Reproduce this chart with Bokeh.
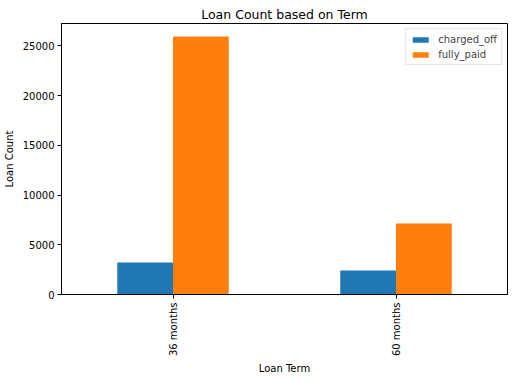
import math
from bokeh.plotting import figure
from bokeh.models import FactorRange, Range1d, ColumnDataSource, Legend, LegendItem, FixedTicker
from bokeh.transform import dodge
from bokeh.embed import file_html
from bokeh.resources import INLINE

terms = ["36 months", "60 months"]
charged_off = [3210, 2410]
fully_paid = [25950, 7150]
y_ticks = [0, 5000, 10000, 15000, 20000, 25000]

src = ColumnDataSource(dict(term=terms, charged_off=charged_off, fully_paid=fully_paid))

FONT = "DejaVu Sans"
p = figure(width=513, height=379, x_range=FactorRange(*terms, range_padding=0),
           y_range=Range1d(0, max(fully_paid) * 1.05),
           output_backend="svg", toolbar_location=None,
           title="Loan Count based on Term",
           min_border_left=60, min_border_right=6, min_border_top=23, min_border_bottom=85)
p.title.align = "center"
p.title.text_font = FONT
p.title.text_font_size = "12.5px"
p.title.text_font_style = "normal"
p.title.text_color = "black"
p.title.standoff = 4
p.title.offset = 0

r1 = p.vbar(x=dodge("term", -0.125, range=p.x_range), top="charged_off", width=0.25,
            source=src, color="#1f77b4", line_color=None)
r2 = p.vbar(x=dodge("term", 0.125, range=p.x_range), top="fully_paid", width=0.25,
            source=src, color="#ff7f0e", line_color=None)

p.xgrid.visible = False
p.ygrid.visible = False
p.outline_line_color = "black"
p.outline_line_width = 1

for ax in (p.xaxis[0], p.yaxis[0]):
    ax.axis_line_color = "black"
    ax.major_tick_line_color = "black"
    ax.major_tick_out = 4
    ax.major_tick_in = 0
    ax.minor_tick_line_color = None
    ax.major_label_text_font = FONT
    ax.major_label_text_font_size = "10px"
    ax.major_label_text_color = "black"
    ax.axis_label_text_font = FONT
    ax.axis_label_text_font_size = "10px"
    ax.axis_label_text_font_style = "normal"
    ax.axis_label_text_color = "black"

p.yaxis.ticker = FixedTicker(ticks=y_ticks)
p.yaxis.axis_label = "Loan Count"
p.yaxis.major_label_standoff = 3
p.xaxis.axis_label = "Loan Term"
p.xaxis.major_label_orientation = math.pi / 2
p.xaxis.major_label_standoff = 4
p.xaxis.axis_label_standoff = 4

legend = Legend(items=[LegendItem(label="charged_off", renderers=[r1]),
                       LegendItem(label="fully_paid", renderers=[r2])],
                location="top_right")
legend.label_text_font = FONT
legend.label_text_font_size = "10px"
legend.glyph_width = 20
legend.glyph_height = 7
legend.border_line_color = "#cccccc"
legend.border_line_width = 1
legend.padding = 4
legend.spacing = 3
legend.margin = 5
legend.label_standoff = 8
legend.label_height = 12
p.add_layout(legend)

open("out.html", "w").write(file_html(p, INLINE))
